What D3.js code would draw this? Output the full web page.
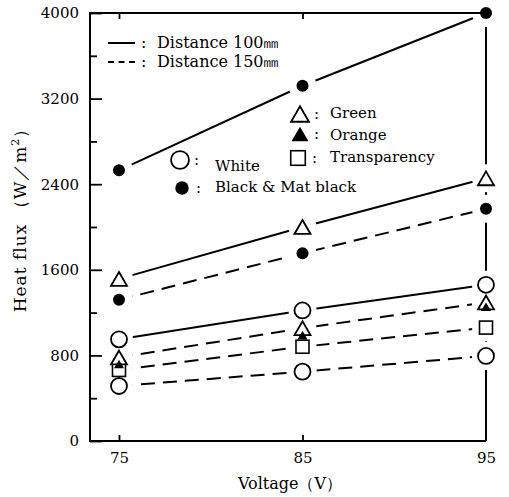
<!DOCTYPE html>
<html>
<head>
<meta charset="utf-8">
<script src="https://cdn.jsdelivr.net/npm/d3@7"></script>
<style>
  body { margin: 0; background: #fff; }
  text { font-family: "DejaVu Serif", serif; fill: #000; }
</style>
</head>
<body>
<svg id="chart" width="509" height="497"></svg>
<script>
// values (heat flux, W/m2)
const voltages = [75, 85, 95];
const black100 = [2530, 3320, 4000];
const green100 = [1515, 2000, 2455];
const white100 = [950, 1220, 1460];
const black150 = [1320, 1755, 2170];
const green150 = [780, 1055, 1295];
const orange150 = [720, 990, 1255];
const transp150 = [664, 881, 1060];
const white150 = [514, 648, 795];
const yMajor = [0, 800, 1600, 2400, 3200, 4000];
const yMinor = [400, 1200, 2000, 2800, 3600];
const xTicks = [75, 85, 95];

const series = [
    {v: black100, dash: false, mark: "dot", line: true},
    {v: green100, dash: false, mark: "tri", line: true},
    {v: white100, dash: false, mark: "circle", line: true},
    {v: black150, dash: true, mark: "dot", line: true},
    {v: white150, dash: true, mark: "circle", line: true},
    {v: transp150, dash: true, mark: "square", line: true},
    {v: green150, dash: true, mark: "tri", line: true},
    {v: orange150, dash: true, mark: "ftri", line: false}
];

const svg = d3.select("#chart");

const x = d3.scaleLinear().domain([73.42, 95]).range([90, 486]);
const y = d3.scaleLinear().domain([0, 4000]).range([441, 13]);

const line = d3.line()
    .x(function (d, i) { return x(voltages[i]); })
    .y(function (d) { return y(d); });

// data lines
series.filter(function (s) { return s.line; }).forEach(function (s) {
    svg.append("path")
        .attr("d", line(s.v))
        .attr("fill", "none")
        .attr("stroke", "#000")
        .attr("stroke-width", 2)
        .attr("stroke-dasharray", s.dash ? "14,8" : null);
});

// right side of the frame (gets broken by the markers)
svg.append("line")
    .attr("x1", x(95)).attr("x2", x(95))
    .attr("y1", y(4000)).attr("y2", y(0))
    .attr("stroke", "#000").attr("stroke-width", 2);

// white space round every marker
series.forEach(function (s) {
    s.v.forEach(function (d, i) {
        svg.append("circle")
            .attr("cx", x(voltages[i])).attr("cy", y(d))
            .attr("r", 14).attr("fill", "#fff");
    });
});

function triPath(side) {
    const h = side * Math.sqrt(3) / 2;
    return "M0," + (-h / 2) + "L" + (side / 2) + "," + (h / 2) + "L" + (-side / 2) + "," + (h / 2) + "Z";
}

function drawMarker(type, cx, cy, big) {
    const k = big ? 1.12 : 1;
    if (type === "circle") {
        svg.append("circle").attr("cx", cx).attr("cy", cy).attr("r", 8 * k)
            .attr("fill", "#fff").attr("stroke", "#000").attr("stroke-width", 1.8);
    } else if (type === "dot") {
        svg.append("circle").attr("cx", cx).attr("cy", cy).attr("r", 6 * k)
            .attr("fill", "#000");
    } else if (type === "tri") {
        svg.append("path").attr("d", triPath(16 * k))
            .attr("transform", "translate(" + cx + "," + cy + ")")
            .attr("fill", "#fff").attr("stroke", "#000").attr("stroke-width", 1.8);
    } else if (type === "ftri") {
        svg.append("path").attr("d", triPath(big ? 17 : 10))
            .attr("transform", "translate(" + cx + "," + cy + ")")
            .attr("fill", "#000");
    } else if (type === "square") {
        const s = 13 * k;
        svg.append("rect").attr("x", cx - s / 2).attr("y", cy - s / 2)
            .attr("width", s).attr("height", s)
            .attr("fill", "#fff").attr("stroke", "#000").attr("stroke-width", 1.6);
    }
}

// markers, drawn back to front
const order = [0, 3, 1, 2, 4, 5, 6, 7];
order.forEach(function (j) {
    const s = series[j];
    s.v.forEach(function (d, i) {
        drawMarker(s.mark, x(voltages[i]), y(d), false);
    });
});

// frame: top, left, bottom
svg.append("path")
    .attr("d", "M" + x(95) + "," + y(4000) + "H" + x(73.42) + "V" + y(0) + "H" + x(95))
    .attr("fill", "none").attr("stroke", "#000").attr("stroke-width", 2);

// y axis, ticks pointing inward
const yAxis = svg.append("g")
    .attr("transform", "translate(90,0)")
    .call(d3.axisLeft(y).tickValues(yMajor).tickSizeInner(-12).tickSizeOuter(0)
        .tickPadding(11).tickFormat(d3.format("d")));
yAxis.select(".domain").remove();
yAxis.selectAll("line").attr("stroke-width", 1.8);
yAxis.selectAll("text").attr("font-size", 15);

const yMinorAxis = svg.append("g")
    .attr("transform", "translate(90,0)")
    .call(d3.axisLeft(y).tickValues(yMinor).tickSizeInner(-7).tickSizeOuter(0).tickFormat(""));
yMinorAxis.select(".domain").remove();
yMinorAxis.selectAll("line").attr("stroke-width", 1.8);

// x axis
const xAxis = svg.append("g")
    .attr("transform", "translate(0,441)")
    .call(d3.axisBottom(x).tickValues(xTicks).tickSizeInner(-6).tickSizeOuter(0)
        .tickPadding(11).tickFormat(d3.format("d")));
xAxis.select(".domain").remove();
xAxis.selectAll("line").attr("stroke-width", 1.8);
xAxis.selectAll(".tick").filter(function (d) { return d === 95; }).select("line").remove();
xAxis.selectAll("text").attr("font-size", 15);

const xTop = svg.append("g")
    .attr("transform", "translate(0,13)")
    .call(d3.axisTop(x).tickValues([75, 85]).tickSizeInner(-6).tickSizeOuter(0).tickFormat(""));
xTop.select(".domain").remove();
xTop.selectAll("line").attr("stroke-width", 1.8);

// axis titles
svg.append("text")
    .attr("x", 290).attr("y", 489)
    .attr("text-anchor", "middle")
    .attr("font-size", 16)
    .text("Voltage（V）");

const yTitle = svg.append("text")
    .attr("transform", "translate(26,216) rotate(-90)")
    .attr("text-anchor", "middle")
    .attr("font-size", 17)
    .attr("letter-spacing", 1);
yTitle.append("tspan").text("Heat flux （W／m");
yTitle.append("tspan").attr("font-size", 11).attr("dy", -7).text("2");
yTitle.append("tspan").attr("dy", 7).text("）");

// legend: distances
svg.append("line").attr("x1", 108).attr("x2", 135).attr("y1", 43).attr("y2", 43)
    .attr("stroke", "#000").attr("stroke-width", 2);
svg.append("line").attr("x1", 108).attr("x2", 135).attr("y1", 62).attr("y2", 62)
    .attr("stroke", "#000").attr("stroke-width", 2).attr("stroke-dasharray", "6,4.5");
svg.append("text").attr("x", 141).attr("y", 48).attr("font-size", 16).text(":");
svg.append("text").attr("x", 141).attr("y", 67).attr("font-size", 16).text(":");
svg.append("text").attr("x", 157).attr("y", 48).attr("font-size", 16).text("Distance 100㎜");
svg.append("text").attr("x", 157).attr("y", 67).attr("font-size", 16).text("Distance 150㎜");

// legend: materials
const legendItems = [
    {mark: "tri", x: 300, y: 114, tx: 330, ty: 118, label: "Green"},
    {mark: "ftri", x: 300, y: 134, tx: 330, ty: 140, label: "Orange"},
    {mark: "square", x: 298, y: 158, tx: 330, ty: 162, label: "Transparency"},
    {mark: "circle", x: 180, y: 160, tx: 215, ty: 171, label: "White"},
    {mark: "dot", x: 182, y: 188, tx: 215, ty: 192, label: "Black & Mat black"}
];
legendItems.forEach(function (d) {
    drawMarker(d.mark, d.x, d.y, true);
    svg.append("text").attr("x", d.x + 14).attr("y", d.y + 5).attr("font-size", 15).text(":");
    svg.append("text").attr("x", d.tx).attr("y", d.ty).attr("font-size", 15).text(d.label);
});
</script>
</body>
</html>
